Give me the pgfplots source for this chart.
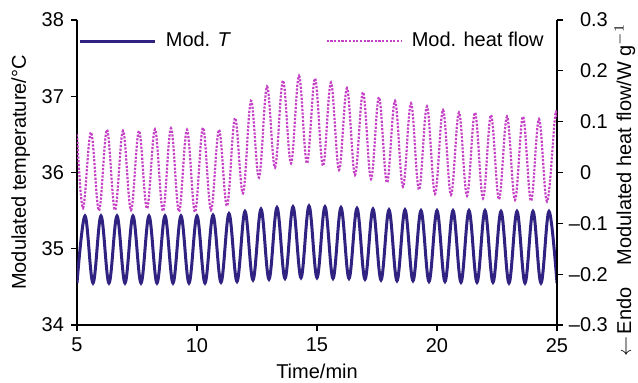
\documentclass[border=0pt]{standalone}
\usepackage{fontspec}
\setmainfont{Liberation Sans}
\usepackage{pgfplots}
\pgfplotsset{compat=1.18}
\definecolor{tcol}{RGB}{48,34,128}
\definecolor{hcol}{RGB}{196,64,196}

\begin{document}
\fontsize{10}{12}\selectfont
\begin{tikzpicture}
\pgfplotsset{
  every axis/.append style={
    scale only axis, width=240pt, height=152.5pt,
    xmin=5, xmax=25,
    /pgf/number format/assume math mode=true,
    axis line style={black, line width=0.6pt, -},
    font=\fontsize{10}{12}\selectfont,
    legend style={draw=none, fill=none, font=\fontsize{10}{12}\selectfont, inner sep=0pt},
    legend cell align=left,
  }
}
\begin{axis}[
  axis x line*=bottom, axis y line*=left,
  xtick align=outside, ytick align=outside,
  major tick length=3pt,
  every tick/.style={black, line width=0.6pt},
  ymin=34, ymax=38, ytick={34,35,36,37,38},
  xtick={5,10,15,20,25},
  xlabel={Time/min},
  xlabel style={yshift=1pt},
  ylabel={Modulated temperature/°C},
  ylabel style={yshift=-1pt},
  legend style={at={(0.003,0.931)}, anchor=west},
  legend image code/.code={\draw[#1] (0pt,0pt) -- (37.5pt,0pt);},
]
\addplot[tcol, line width=1.5pt, smooth, tension=0.6] coordinates {
(5,34.55) (5.333,35.43) (5.667,34.55) (6,35.43) (6.333,34.55) (6.667,35.43) (7,34.55) (7.333,35.43) (7.667,34.55) (8,35.43) (8.333,34.55) (8.667,35.43) (9,34.55) (9.333,35.43) (9.667,34.55) (10,35.43) (10.333,34.55) (10.667,35.44) (11,34.56) (11.333,35.46) (11.667,34.57) (12,35.49) (12.333,34.59) (12.667,35.52) (13,34.60) (13.333,35.54) (13.667,34.61) (14,35.55) (14.333,34.62) (14.667,35.56) (15,34.62) (15.333,35.55) (15.667,34.61) (16,35.54) (16.333,34.61) (16.667,35.53) (17,34.60) (17.333,35.52) (17.667,34.59) (18,35.51) (18.333,34.58) (18.667,35.51) (19,34.58) (19.333,35.50) (19.667,34.57) (20,35.50) (20.333,34.57) (20.667,35.50) (21,34.56) (21.333,35.50) (21.667,34.56) (22,35.50) (22.333,34.56) (22.667,35.49) (23,34.55) (23.333,35.49) (23.667,34.55) (24,35.49) (24.333,34.55) (24.667,35.49) (25,34.55)
};
\addlegendentry{\hspace{2.5pt}Mod. \textit{T}}
\end{axis}
\begin{axis}[
  axis x line=none, axis y line*=right,
  ytick align=outside,
  major tick length=3pt,
  every tick/.style={black, line width=0.6pt},
  ymin=-0.3, ymax=0.3,
  ytick={-0.3,-0.2,-0.1,0,0.1,0.2,0.3},
  yticklabels={\llap{--}0.3,\llap{--}0.2,\llap{--}0.1,0,0.1,0.2,0.3},
  yticklabel style={anchor=west, xshift=5pt},
  ylabel={$\leftarrow$\hspace{1pt}Endo\hspace{11pt}Modulated heat flow/W g$^{-1}$},
  ylabel style={at={([shift={(37pt,0pt)}]rel axis cs:1,0.443)}, anchor=base, rotate=0},
  legend style={at={(0.517,0.931)}, anchor=west},
  legend image code/.code={\draw[#1] (0pt,0pt) -- (37.5pt,0pt);},
]
\addplot[hcol, line width=1.1pt, dash pattern=on 1.1pt off 0.75pt, smooth, tension=0.6] coordinates {
(5,0.075) (5.25,-0.070) (5.583,0.079) (5.917,-0.075) (6.25,0.084) (6.583,-0.074) (6.917,0.082) (7.25,-0.074) (7.583,0.082) (7.917,-0.071) (8.25,0.085) (8.583,-0.076) (8.917,0.087) (9.25,-0.077) (9.583,0.084) (9.917,-0.078) (10.25,0.088) (10.583,-0.074) (10.917,0.084) (11.25,-0.066) (11.583,0.107) (11.917,-0.041) (12.25,0.141) (12.583,-0.010) (12.917,0.169) (13.25,0.010) (13.583,0.181) (13.917,0.018) (14.25,0.190) (14.583,0.018) (14.917,0.185) (15.25,0.013) (15.583,0.177) (15.917,0.005) (16.25,0.166) (16.583,-0.005) (16.917,0.158) (17.25,-0.013) (17.583,0.148) (17.917,-0.020) (18.25,0.141) (18.583,-0.028) (18.917,0.136) (19.25,-0.034) (19.583,0.130) (19.917,-0.042) (20.25,0.123) (20.583,-0.044) (20.917,0.118) (21.25,-0.046) (21.583,0.118) (21.917,-0.051) (22.25,0.113) (22.583,-0.053) (22.917,0.110) (23.25,-0.054) (23.583,0.110) (23.917,-0.056) (24.25,0.105) (24.583,-0.057) (24.917,0.109) (25,0.106)
};
\addlegendentry{\hspace{2.5pt}Mod. heat flow}
\end{axis}
\pgfresetboundingbox
\path[use as bounding box] ([shift={(-38.5pt,-29pt)}]current axis.south west) rectangle ([shift={(40.5pt,10pt)}]current axis.north east);
\end{tikzpicture}
\end{document}
